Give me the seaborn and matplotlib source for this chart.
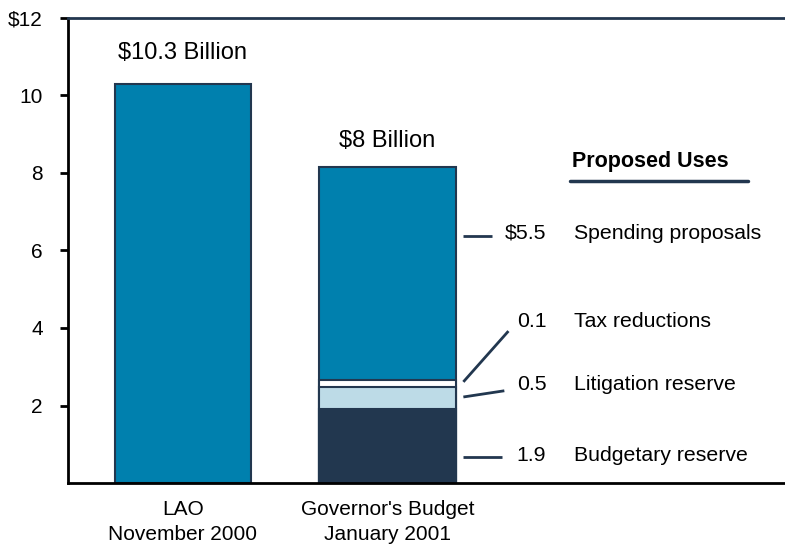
import matplotlib
matplotlib.use('Agg')
import numpy as np
import pandas as pd
import matplotlib.pyplot as plt
import seaborn as sns

# datos
categorias = ["LAO\nNovember 2000", "Governor's Budget\nJanuary 2001"]
total_lao = 10.3
usos = ["Budgetary reserve", "Litigation reserve", "Tax reductions", "Spending proposals"]
alturas_gob = [1.9, 0.57, 0.18, 5.5]      # alturas dibujadas (de abajo hacia arriba)
etiquetas_valor = ["1.9", "0.5", "0.1", "$5.5"]
titulos_barras = ["$10.3 Billion", "$8 Billion"]
yticks = [2, 4, 6, 8, 10, 12]
ytick_labels = ["2", "4", "6", "8", "10", "$12"]

TEAL = "#0080AE"
NAVY = "#22374F"
CLARO = "#BDDBE7"
colores = {"Budgetary reserve": NAVY, "Litigation reserve": CLARO,
           "Tax reductions": "white", "Spending proposals": TEAL}

sns.set_style("white")
plt.rcParams['font.family'] = ['Liberation Sans', 'DejaVu Sans']
plt.rcParams['text.color'] = 'black'
plt.rcParams['xtick.color'] = 'black'
plt.rcParams['ytick.color'] = 'black'

# barras apiladas: acumulados dibujados de mayor a menor para que se superpongan
acum = np.cumsum(alturas_gob)
filas = [{"cat": categorias[0], "uso": "Spending proposals", "valor": total_lao}]
for uso, v in zip(usos, acum):
    filas.append({"cat": categorias[1], "uso": uso, "valor": v})
df = pd.DataFrame(filas)

fig = plt.figure(figsize=(7.85, 5.44), dpi=100)
ax = fig.add_axes([0.0866, 0.1121, 1 - 0.0866, 0.967 - 0.1121])

sns.barplot(data=df, x="cat", y="valor", hue="uso", order=categorias,
            hue_order=usos[::-1], palette=colores, dodge=False, width=0.665,
            saturation=1, edgecolor=NAVY, linewidth=1.5, legend=False, ax=ax)

ax.set_xlim(-0.56, 2.94)
ax.set_ylim(0, 12)
ax.set_yticks(yticks)
ax.set_yticklabels(ytick_labels, fontsize=15)
ax.tick_params(axis='y', left=True, length=6, width=2, color='black', pad=12)
ax.tick_params(axis='x', bottom=False, labelsize=15, pad=9)
for lbl in ax.get_xticklabels():
    lbl.set_linespacing(1.35)
ax.set_xlabel("")
ax.set_ylabel("")

ax.spines['right'].set_visible(False)
ax.spines['left'].set_color('black')
ax.spines['left'].set_linewidth(2)
ax.spines['bottom'].set_color('black')
ax.spines['bottom'].set_linewidth(2)
ax.spines['top'].set_color(NAVY)
ax.spines['top'].set_linewidth(2)

# titulos sobre las barras
ax.text(0, 11.1, titulos_barras[0], ha='center', va='center', fontsize=17)
ax.text(1, 8.83, titulos_barras[1], ha='center', va='center', fontsize=17)

# lineas guia y etiquetas de los usos
lineas = [((1.37, 1.56), (0.68, 0.68)),
          ((1.37, 1.57), (2.22, 2.38)),
          ((1.37, 1.59), (2.61, 3.92)),
          ((1.37, 1.51), (6.37, 6.37))]
y_textos = [0.70, 2.53, 4.18, 6.45]
for (xs, ys), yt, val, uso in zip(lineas, y_textos, etiquetas_valor, usos):
    ax.plot(xs, ys, color=NAVY, lw=2, solid_capstyle='butt')
    ax.text(1.775, yt, val, ha='right', va='center', fontsize=15.3)
    ax.text(1.91, yt, uso, ha='left', va='center', fontsize=15.3)

ax.text(1.90, 8.3, "Proposed Uses", ha='left', va='center', fontsize=15.5, fontweight='bold')
ax.plot([1.89, 2.76], [7.79, 7.79], color=NAVY, lw=2.5)

fig.savefig("out.png", dpi=100)
